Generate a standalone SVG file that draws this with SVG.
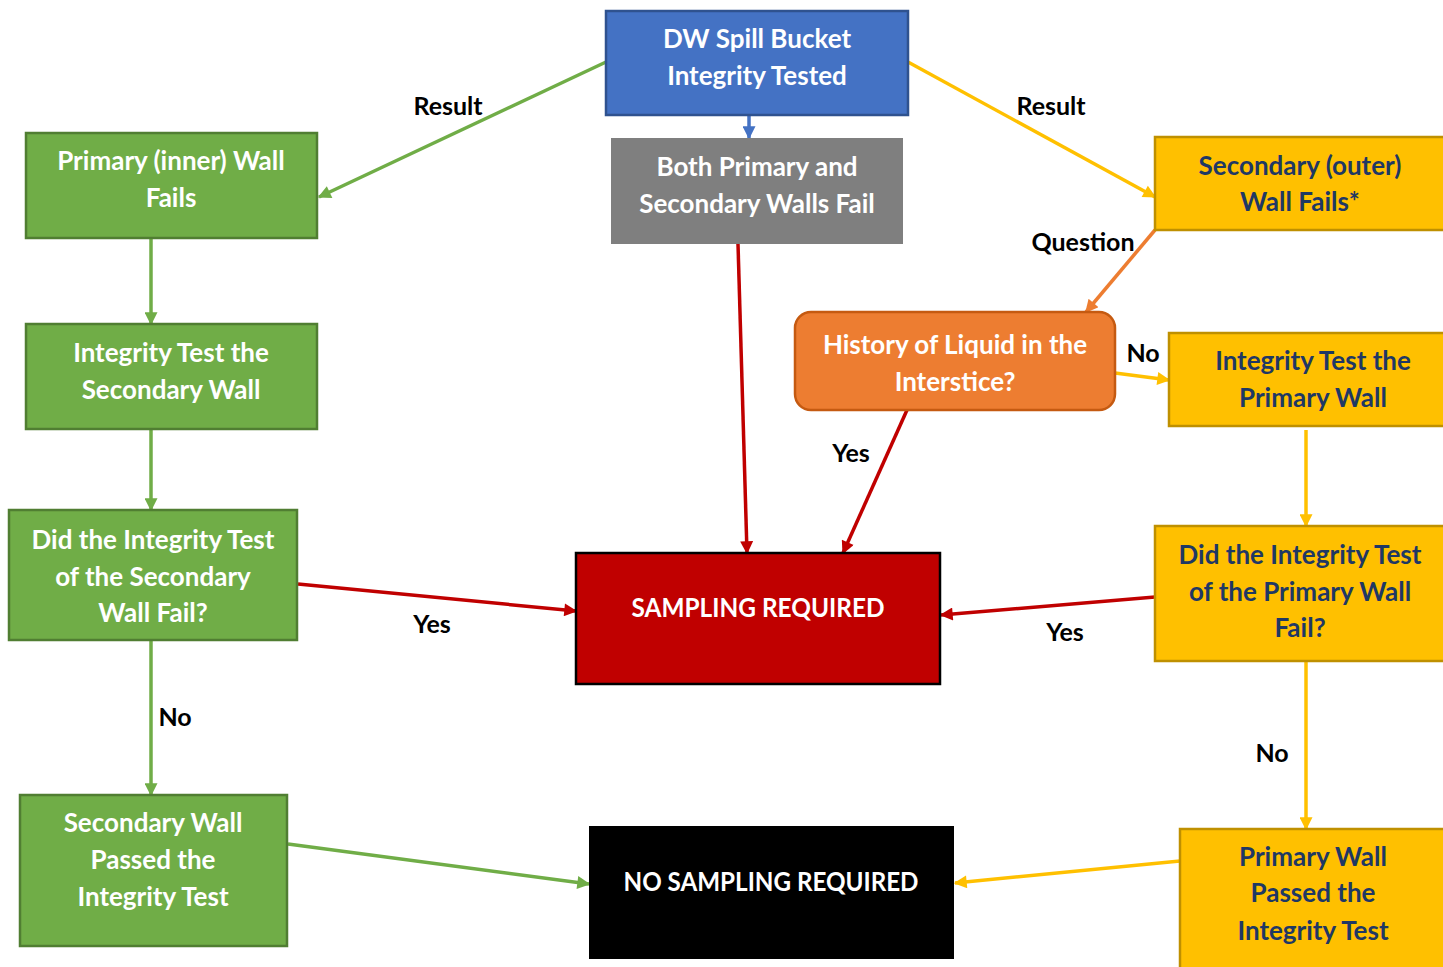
<svg xmlns="http://www.w3.org/2000/svg" width="1443" height="967" viewBox="0 0 1443 967">
<defs>
<style>
.t{font-family:Lato,"Liberation Sans",sans-serif;font-weight:bold;font-size:26px;text-anchor:middle}
.w{fill:#fff}
.n{fill:#1F3864}
.lb{font-family:Lato,"Liberation Sans",sans-serif;font-weight:bold;font-size:25px;fill:#000;text-anchor:middle}
.green{fill:#70AD47;stroke:#507E32;stroke-width:2.5}
.yellow{fill:#FFC000;stroke:#BF9000;stroke-width:2.5}
.c{fill:none;stroke-width:3.5}
</style>
<marker id="aG" viewBox="0 0 10 10" refX="9" refY="5" markerUnits="userSpaceOnUse" markerWidth="15" markerHeight="13" orient="auto"><path d="M0,0L10,5L0,10z" fill="#70AD47"/></marker>
<marker id="aY" viewBox="0 0 10 10" refX="9" refY="5" markerUnits="userSpaceOnUse" markerWidth="15" markerHeight="13" orient="auto"><path d="M0,0L10,5L0,10z" fill="#FFC000"/></marker>
<marker id="aR" viewBox="0 0 10 10" refX="9" refY="5" markerUnits="userSpaceOnUse" markerWidth="15" markerHeight="13" orient="auto"><path d="M0,0L10,5L0,10z" fill="#C00000"/></marker>
<marker id="aO" viewBox="0 0 10 10" refX="9" refY="5" markerUnits="userSpaceOnUse" markerWidth="15" markerHeight="13" orient="auto"><path d="M0,0L10,5L0,10z" fill="#ED7D31"/></marker>
<marker id="aB" viewBox="0 0 10 10" refX="9" refY="5" markerUnits="userSpaceOnUse" markerWidth="15" markerHeight="13" orient="auto"><path d="M0,0L10,5L0,10z" fill="#4472C4"/></marker>
</defs>
<rect width="1443" height="967" fill="#fff"/>

<g id="connectors">
<line class="c" x1="606" y1="62" x2="319" y2="197" stroke="#70AD47" marker-end="url(#aG)"/>
<line class="c" x1="908" y1="62" x2="1155" y2="197" stroke="#FFC000" marker-end="url(#aY)"/>
<line class="c" x1="749" y1="115" x2="749" y2="138" stroke="#4472C4" marker-end="url(#aB)"/>
<line class="c" x1="151" y1="238" x2="151" y2="324" stroke="#70AD47" marker-end="url(#aG)"/>
<line class="c" x1="151" y1="429" x2="151" y2="510" stroke="#70AD47" marker-end="url(#aG)"/>
<line class="c" x1="151" y1="640" x2="151" y2="795" stroke="#70AD47" marker-end="url(#aG)"/>
<line class="c" x1="298" y1="584" x2="576" y2="611" stroke="#C00000" marker-end="url(#aR)"/>
<line class="c" x1="288" y1="844" x2="589" y2="884" stroke="#70AD47" marker-end="url(#aG)"/>
<line class="c" x1="738" y1="244" x2="747" y2="553" stroke="#C00000" marker-end="url(#aR)"/>
<line class="c" x1="1155" y1="230" x2="1086" y2="312" stroke="#ED7D31" marker-end="url(#aO)"/>
<line class="c" x1="907" y1="410" x2="843" y2="553" stroke="#C00000" marker-end="url(#aR)"/>
<line class="c" x1="1115" y1="373" x2="1169" y2="380" stroke="#FFC000" marker-end="url(#aY)"/>
<line class="c" x1="1306" y1="430" x2="1306" y2="526" stroke="#FFC000" marker-end="url(#aY)"/>
<line class="c" x1="1155" y1="597" x2="941" y2="615" stroke="#C00000" marker-end="url(#aR)"/>
<line class="c" x1="1306" y1="661" x2="1306" y2="829" stroke="#FFC000" marker-end="url(#aY)"/>
<line class="c" x1="1180" y1="861" x2="955" y2="883" stroke="#FFC000" marker-end="url(#aY)"/>
<text class="lb" x="448" y="115">Result</text>
<text class="lb" x="1051" y="115">Result</text>
<text class="lb" x="1083" y="251">Question</text>
<text class="lb" x="1143" y="362">No</text>
<text class="lb" x="851" y="462">Yes</text>
<text class="lb" x="432" y="633">Yes</text>
<text class="lb" x="1065" y="641">Yes</text>
<text class="lb" x="175" y="726">No</text>
<text class="lb" x="1272" y="762">No</text>
</g>

<g id="n-start">
<rect x="606" y="11" width="302" height="104" fill="#4472C4" stroke="#2F528F" stroke-width="2.5"/>
<text class="t w" x="757" y="48">DW Spill Bucket</text>
<text class="t w" x="757" y="85">Integrity Tested</text>
</g>
<g id="n-both">
<rect x="611" y="138" width="292" height="106" fill="#7F7F7F"/>
<text class="t w" x="757" y="176">Both Primary and</text>
<text class="t w" x="757" y="213">Secondary Walls Fail</text>
</g>
<g id="n-primary-fails">
<rect class="green" x="26" y="133" width="291" height="105"/>
<text class="t w" x="171" y="170">Primary (inner) Wall</text>
<text class="t w" x="171" y="207">Fails</text>
</g>
<g id="n-test-secondary">
<rect class="green" x="26" y="324" width="291" height="105"/>
<text class="t w" x="171" y="362">Integrity Test the</text>
<text class="t w" x="171" y="399">Secondary Wall</text>
</g>
<g id="n-did-secondary">
<rect class="green" x="9" y="510" width="288" height="130"/>
<text class="t w" x="153" y="549">Did the Integrity Test</text>
<text class="t w" x="153" y="586">of the Secondary</text>
<text class="t w" x="153" y="622">Wall Fail?</text>
</g>
<g id="n-secondary-passed">
<rect class="green" x="20" y="795" width="267" height="151"/>
<text class="t w" x="153" y="832">Secondary Wall</text>
<text class="t w" x="153" y="869">Passed the</text>
<text class="t w" x="153" y="906">Integrity Test</text>
</g>
<g id="n-sampling">
<rect x="576" y="553" width="364" height="131" fill="#C00000" stroke="#000" stroke-width="2.5"/>
<text class="t w" x="758" y="617" textLength="253" lengthAdjust="spacingAndGlyphs">SAMPLING REQUIRED</text>
</g>
<g id="n-no-sampling">
<rect x="589" y="826" width="365" height="133" fill="#000"/>
<text class="t w" x="771" y="891" textLength="295" lengthAdjust="spacingAndGlyphs">NO SAMPLING REQUIRED</text>
</g>
<g id="n-secondary-fails">
<rect class="yellow" x="1155" y="137" width="292" height="93"/>
<text class="t n" x="1300" y="175">Secondary (outer)</text>
<text class="t n" x="1300" y="211">Wall Fails*</text>
</g>
<g id="n-history">
<rect x="795" y="312" width="320" height="98" rx="16" fill="#ED7D31" stroke="#C55A11" stroke-width="2.5"/>
<text class="t w" x="955" y="354">History of Liquid in the</text>
<text class="t w" x="955" y="391">Interstice?</text>
</g>
<g id="n-test-primary">
<rect class="yellow" x="1169" y="333" width="278" height="93"/>
<text class="t n" x="1313" y="370">Integrity Test the</text>
<text class="t n" x="1313" y="407">Primary Wall</text>
</g>
<g id="n-did-primary">
<rect class="yellow" x="1155" y="526" width="292" height="135"/>
<text class="t n" x="1300" y="564">Did the Integrity Test</text>
<text class="t n" x="1300" y="601">of the Primary Wall</text>
<text class="t n" x="1300" y="637">Fail?</text>
</g>
<g id="n-primary-passed">
<rect class="yellow" x="1180" y="829" width="267" height="145"/>
<text class="t n" x="1313" y="866">Primary Wall</text>
<text class="t n" x="1313" y="902">Passed the</text>
<text class="t n" x="1313" y="940">Integrity Test</text>
</g>
</svg>
